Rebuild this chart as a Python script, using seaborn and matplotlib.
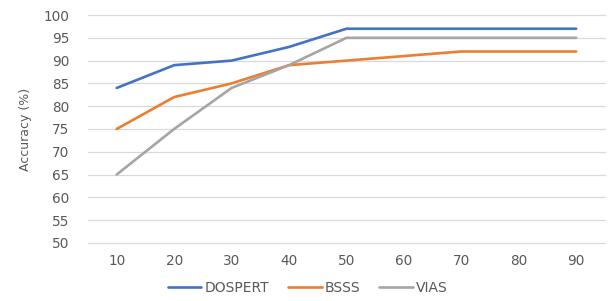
import pandas as pd
import seaborn as sns
import matplotlib.pyplot as plt

sns.set_style("white")
plt.rcParams['font.family'] = ['DejaVu Sans']

sizes = [10, 20, 30, 40, 50, 60, 70, 80, 90]
dospert = [84, 89, 90, 93, 97, 97, 97, 97, 97]
bsss = [75, 82, 85, 89, 90, 91, 92, 92, 92]
vias = [65, 75, 84, 89, 95, 95, 95, 95, 95]
methods = ['DOSPERT', 'BSSS', 'VIAS']
colors = ['#4472C4', '#ED7D31', '#A5A5A5']

df = pd.concat([
    pd.DataFrame({'size': sizes, 'accuracy': vals, 'method': name})
    for name, vals in zip(methods, [dospert, bsss, vias])
])

fig = plt.figure(figsize=(6.11, 3.01), dpi=100)
ax = fig.add_axes([0.144, 0.193, 0.846, 0.757])

sns.lineplot(data=df, x='size', y='accuracy', hue='method', hue_order=methods,
             palette=colors, linewidth=1.9, ax=ax, legend=True)

ax.set_xlim(5, 95)
ax.set_ylim(50, 100)
ax.set_xticks(sizes)
ax.set_yticks(range(50, 101, 5))
ax.yaxis.grid(True, color='#d9d9d9', linewidth=0.9)
for gl in ax.get_ygridlines():
    gl.set_clip_on(False)
ax.set_axisbelow(True)
for s in ax.spines.values():
    s.set_visible(False)
ax.tick_params(axis='both', length=0, labelsize=9.8, labelcolor='#595959')
ax.tick_params(axis='x', pad=8)
ax.tick_params(axis='y', pad=13.5)
ax.set_xlabel('')
ax.set_ylabel('Accuracy (%)', fontsize=9, color='#595959', labelpad=8)

handles, labels = ax.get_legend_handles_labels()
ax.get_legend().remove()
fig.legend(handles, labels, loc='center', bbox_to_anchor=(308 / 611, 0.043), ncol=3,
           frameon=False, fontsize=10, labelcolor='#595959', handlelength=2.4,
           handletextpad=0.25, columnspacing=1.35, borderpad=0)

fig.savefig('out.png', dpi=100)
